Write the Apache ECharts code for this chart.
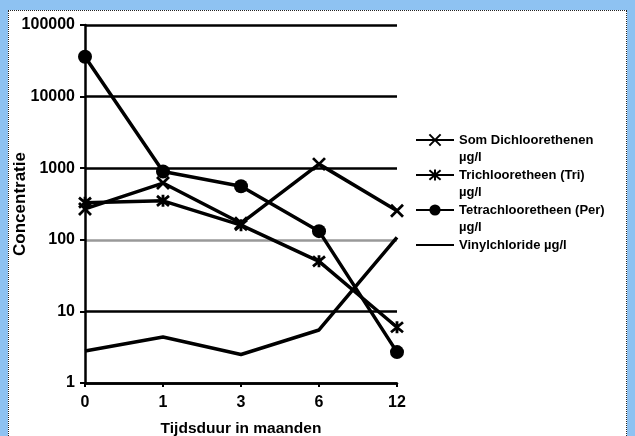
<!DOCTYPE html>
<html><head><meta charset="utf-8">
<script src="https://cdn.jsdelivr.net/npm/echarts@6/dist/echarts.min.js"></script>
<style>
html,body{margin:0;padding:0;background:#8ec2f2;width:635px;height:436px;overflow:hidden}
#frame{position:absolute;left:8px;top:10px;width:619px;height:440px;background:#fff;border:1px dotted #222;box-sizing:border-box}
#main{position:absolute;left:0;top:0;width:635px;height:436px}
</style></head><body><div id="frame"></div><div id="main"></div>
<script>
const months = ['0', '1', '3', '6', '12'];
const somDichloorethenen = [270, 620, 170, 1140, 255];
const trichlooretheen = [330, 350, 160, 50, 6];
const tetrachlooretheen = [36000, 900, 560, 132, 2.7];
const vinylchloride = [2.8, 4.4, 2.5, 5.5, 108];
const seriesNames = ['Som Dichloorethenen\nµg/l', 'Trichlooretheen (Tri)\nµg/l', 'Tetrachlooretheen (Per)\nµg/l', 'Vinylchloride µg/l'];

const FONT = '"Liberation Sans", Arial, sans-serif';
const X_SYM = 'path://M0,0L10,10M10,0L0,10';
const STAR_SYM = 'path://M0,0L10,10M10,0L0,10M5,-1L5,11';

const chart = echarts.init(document.getElementById('main'), null, {renderer: 'canvas'});
const lineBase = (name, data, symbol, size) => ({
  name, type: 'line', data,
  symbol, symbolSize: size, showSymbol: symbol !== 'none',
  lineStyle: {color: '#000', width: 3.5},
  itemStyle: {color: '#000', borderColor: '#000', borderWidth: symbol === 'circle' ? 0 : 2.8},
  emphasis: {disabled: true},
  animation: false
});
chart.setOption({
  backgroundColor: 'transparent',
  animation: false,
  grid: {left: 85, right: 238, top: 25, bottom: 53, containLabel: false, outerBoundsMode: 'none'},
  legend: {
    orient: 'vertical', left: 415, top: 114.5, padding: 0,
    itemWidth: 38, itemHeight: 14, itemGap: -16,
    formatter: name => name.indexOf('\n') >= 0 ? ' \n' + name : ' \n' + name + '\n ',
    textStyle: {fontFamily: FONT, fontWeight: 'bold', fontSize: 13, color: '#000', lineHeight: 17},
    data: [
      {name: seriesNames[0]},
      {name: seriesNames[1]},
      {name: seriesNames[2]},
      {name: seriesNames[3], itemStyle: {color: 'rgba(0,0,0,0)', borderColor: 'rgba(0,0,0,0)', borderWidth: 0}}
    ]
  },
  xAxis: {
    type: 'category', data: months, boundaryGap: false,
    name: 'Tijdsduur in maanden', nameLocation: 'middle', nameGap: 38, nameMoveOverlap: false,
    nameTextStyle: {fontFamily: FONT, fontWeight: 'bold', fontSize: 15.5, color: '#000'},
    axisLine: {lineStyle: {color: '#000', width: 2.5}},
    axisTick: {show: true, length: 4, lineStyle: {color: '#000', width: 2}},
    axisLabel: {fontFamily: FONT, fontWeight: 'bold', fontSize: 16, color: '#000', margin: 12},
    splitLine: {show: false}
  },
  yAxis: {
    type: 'log', logBase: 10, min: 1, max: 100000,
    name: 'Concentratie', nameLocation: 'middle', nameGap: 56, nameRotate: 90, nameMoveOverlap: false,
    nameTextStyle: {fontFamily: FONT, fontWeight: 'bold', fontSize: 17, color: '#000'},
    axisLine: {show: true, lineStyle: {color: '#000', width: 2.5}},
    axisTick: {show: true, length: 5, lineStyle: {color: '#000', width: 2}},
    minorTick: {show: false},
    axisLabel: {fontFamily: FONT, fontWeight: 'bold', fontSize: 16, color: '#000', margin: 10,
      formatter: v => String(Math.round(v))},
    splitLine: {show: true, showMinLine: true, lineStyle: {color: ['#000', '#000', '#999', '#000', '#000', '#000'], width: 2.5}}
  },
  series: [
    lineBase(seriesNames[0], somDichloorethenen, X_SYM, 12),
    lineBase(seriesNames[1], trichlooretheen, STAR_SYM, 12),
    lineBase(seriesNames[2], tetrachlooretheen, 'circle', 14),
    lineBase(seriesNames[3], vinylchloride, 'none', 0)
  ]
});
</script></body></html>
